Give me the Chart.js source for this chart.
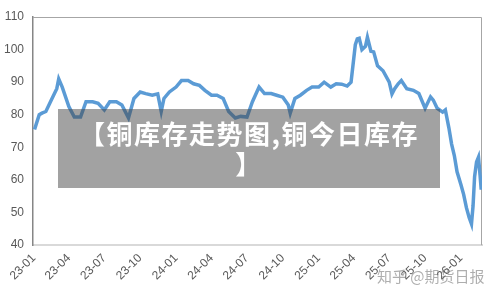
<!DOCTYPE html>
<html>
<head>
<meta charset="utf-8">
<script src="https://cdn.jsdelivr.net/npm/chart.js@4.4.1/dist/chart.umd.min.js"></script>
<style>
  body { margin: 0; background: #fff; }
  #wrap { position: relative; width: 500px; height: 298px; }
  .banner {
    position: absolute; left: 58px; top: 109px; width: 382px; height: 79px;
    box-sizing: border-box; padding-top: 9px;
    background: rgba(70, 70, 70, 0.5);
    color: #fff; text-align: center;
    font: bold 26px/30px "Noto Sans CJK SC", sans-serif; letter-spacing: 1.5px;
  }
  .mark {
    position: absolute; left: 377px; top: 266px;
    color: rgba(120, 120, 120, 0.6);
    font: 15px/20px "Noto Sans CJK SC", sans-serif;
  }
</style>
</head>
<body>
<div id="wrap">
  <canvas id="chart" width="500" height="298"></canvas>
  <div class="banner">【铜库存走势图,铜今日库存<br>】</div>
  <div class="mark">知乎 @期货日报</div>
</div>
<script>
const startDate = "2023-01-01";

const dates = [
  "2023-01-03", "2023-01-15", "2023-01-22", "2023-02-01", "2023-02-15", "2023-03-01", "2023-03-06", "2023-03-15",
  "2023-04-01", "2023-04-15", "2023-05-01", "2023-05-15", "2023-06-01", "2023-06-15", "2023-07-01", "2023-07-15",
  "2023-08-01", "2023-08-15", "2023-09-01", "2023-09-15", "2023-10-01", "2023-10-15", "2023-11-01", "2023-11-15",
  "2023-11-24", "2023-12-01", "2023-12-15", "2024-01-01", "2024-01-15", "2024-02-01", "2024-02-15", "2024-03-01",
  "2024-03-15", "2024-04-01", "2024-04-15", "2024-05-01", "2024-05-15", "2024-06-01", "2024-06-15", "2024-07-01",
  "2024-07-15", "2024-08-01", "2024-08-15", "2024-09-01", "2024-09-15", "2024-10-01", "2024-10-15", "2024-10-20",
  "2024-11-01", "2024-11-15", "2024-12-01", "2024-12-15", "2025-01-01", "2025-01-15", "2025-02-01", "2025-02-15",
  "2025-03-01", "2025-03-15", "2025-03-25", "2025-04-05", "2025-04-10", "2025-04-15", "2025-04-22", "2025-05-01",
  "2025-05-06", "2025-05-15", "2025-05-22", "2025-06-01", "2025-06-15", "2025-07-01", "2025-07-08", "2025-07-15",
  "2025-07-24", "2025-08-01", "2025-08-15", "2025-09-01", "2025-09-15", "2025-10-01", "2025-10-15", "2025-10-22",
  "2025-11-01", "2025-11-15", "2025-11-22", "2025-12-01", "2025-12-08", "2025-12-15", "2025-12-22", "2026-01-01",
  "2026-01-08", "2026-01-15", "2026-01-22", "2026-01-28", "2026-02-01", "2026-02-05", "2026-02-10", "2026-02-15",
  "2026-02-19", "2026-02-22"
];

const stock = [
  75.5, 80, 80.5, 81, 84.5, 88, 91, 88.5,
  82.5, 79.3, 79.3, 84, 84, 83.5, 81.5, 84,
  84, 83, 79, 85, 87, 86.5, 86, 86.4,
  81, 85, 87, 88.5, 90.5, 90.5, 89.5, 89,
  87.5, 86, 86, 85, 81, 79, 79.5, 79.3,
  84, 88.5, 86.5, 86.5, 86, 85.4, 83, 80.5,
  85, 86, 87.5, 88.5, 88.5, 90, 88.5, 89.5,
  89.4, 88.8, 90, 101.5, 103.3, 103.5, 100, 101,
  103.8, 99.5, 99.3, 95, 93.5, 90, 86.4, 88,
  89.5, 90.5, 88, 87.5, 86.5, 82, 85.5, 84.5,
  82, 80.8, 81.5, 76, 71, 67.5, 62.5, 58.5,
  55.5, 51.5, 48.5, 46.5, 52, 61, 65.5, 67,
  61.5, 57
];

const tickDates = [
  "2023-01-01", "2023-04-01", "2023-07-01", "2023-10-01", "2024-01-01", "2024-04-01", "2024-07-01",
  "2024-10-01", "2025-01-01", "2025-04-01", "2025-07-01", "2025-10-01", "2026-01-01"
];
const tickLabels = ["23-01", "23-04", "23-07", "23-10", "24-01", "24-04", "24-07",
                    "24-10", "25-01", "25-04", "25-07", "25-10", "26-01"];

const yTicks = [40, 50, 60, 70, 80, 90, 100, 110];

// day offset from the first tick date
const dayOf = (d) => (Date.parse(d) - Date.parse(startDate)) / 864e5;

// top and right border of the plot frame
const framePlugin = {
  id: "frame",
  beforeDatasetsDraw(chart) {
    const { ctx, chartArea: a } = chart;
    ctx.save();
    ctx.strokeStyle = "#a6a6a6";
    ctx.lineWidth = 1;
    ctx.beginPath();
    ctx.moveTo(a.left, a.top + 0.5);
    ctx.lineTo(a.right - 0.5, a.top + 0.5);
    ctx.lineTo(a.right - 0.5, a.bottom);
    ctx.stroke();
    ctx.restore();
  }
};

const ctx = document.getElementById("chart").getContext("2d");

new Chart(ctx, {
  type: "line",
  data: {
    datasets: [{
      data: dates.map((d, i) => ({ x: dayOf(d), y: stock[i] })),
      borderColor: "#5b9bd5",
      borderWidth: 3.5,
      pointRadius: 0,
      tension: 0,
      fill: false
    }]
  },
  options: {
    responsive: false,
    animation: false,
    devicePixelRatio: 1,
    layout: { padding: { top: 17, right: 18, bottom: 9, left: 3 } },
    plugins: { legend: { display: false }, tooltip: { enabled: false } },
    scales: {
      x: {
        type: "linear",
        min: -2,
        max: 1150,
        afterBuildTicks: (axis) => {
          axis.ticks = tickDates.map((d) => ({ value: dayOf(d) }));
        },
        // the rotated first label may hang under the y labels, as in the original
        afterFit: (axis) => { axis.paddingLeft = 0; },
        grid: { display: false, drawTicks: false },
        border: { display: true, color: "#d9d9d9", width: 2 },
        ticks: {
          autoSkip: false,
          minRotation: 45,
          maxRotation: 45,
          padding: 6,
          color: "#595959",
          font: { family: "Liberation Sans", size: 12 },
          callback: (v, i) => tickLabels[i]
        }
      },
      y: {
        min: 40,
        max: 110,
        afterBuildTicks: (axis) => {
          axis.ticks = yTicks.map((v) => ({ value: v }));
        },
        afterFit: (axis) => { axis.width = 30; },
        grid: { display: false, drawTicks: false },
        border: { display: true, color: "#868686", width: 1.5 },
        ticks: {
          padding: 9,
          color: "#595959",
          font: { family: "Liberation Sans", size: 12 }
        }
      }
    }
  },
  plugins: [framePlugin]
});
</script>
</body>
</html>
